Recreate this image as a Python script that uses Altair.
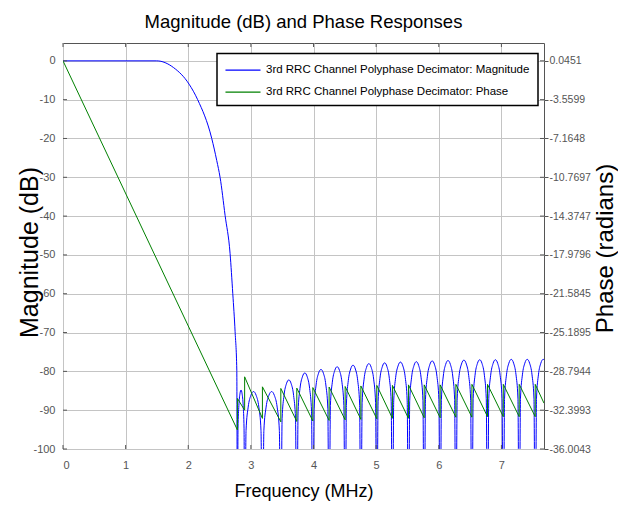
import altair as alt
import pandas as pd

FONT = "Liberation Sans, Arial, Helvetica, sans-serif"

title_text = "Magnitude (dB) and Phase Responses"
series_names = [
    "3rd RRC Channel Polyphase Decimator: Magnitude",
    "3rd RRC Channel Polyphase Decimator: Phase",
]
series_colors = ["#0000ff", "#008000"]

freq_ticks = [0, 1, 2, 3, 4, 5, 6, 7]
mag_ticks = [0, -10, -20, -30, -40, -50, -60, -70, -80, -90, -100]
phase_ticks = [0.0451, -3.5599, -7.1648, -10.7697, -14.3747, -17.9796,
               -21.5845, -25.1895, -28.7944, -32.3993, -36.0043]

freq_range = [0, 7.68]
mag_range = [-100, 4.6]
phase_range = [-36.0043, 1.7034]

# magnitude: passband and transition band (MHz, dB)
pass_freq = [0.0, 1.497, 1.762, 2.013, 2.15, 2.375, 2.455, 2.508, 2.588,
             2.668, 2.711, 2.748, 2.775]
pass_db = [0.0, 0.0, -1.7, -6.0, -10.0, -20.0, -25.7, -30.0, -39.8,
           -49.7, -60.0, -69.8, -79.7]

# magnitude: stopband nulls (MHz) and sidelobe peak levels (dB)
null_freq = [2.785, 2.90, 3.184, 3.478, 3.733, 3.989, 4.249, 4.505, 4.756,
             5.011, 5.260, 5.516, 5.767, 6.022, 6.273, 6.529, 6.778, 7.03,
             7.284, 7.540, 7.795]
lobe_peak_db = [-84.8, -85.2, -85.2, -82.2, -80.4, -79.5, -78.8, -78.4,
                -78.0, -77.8, -77.6, -77.5, -77.3, -77.2, -77.1, -77.0,
                -77.0, -76.9, -76.9, -76.9]
null_depth_db = -130.0
# sidelobe profile: position within lobe, dB below peak
lobe_shape_frac = [0.08, 0.2, 0.35, 0.5, 0.65, 0.8, 0.92]
lobe_shape_drop = [10.0, 4.0, 1.0, 0.0, 1.0, 4.0, 10.0]

# phase (radians)
phase_freq = [0.0, 2.785, 2.785, 2.90, 2.90, 3.184, 3.184, 3.478, 3.478,
              3.733, 3.733, 3.989, 3.989, 4.249, 4.249, 4.505, 4.505,
              4.756, 4.756, 5.011, 5.011, 5.260, 5.260, 5.516, 5.516,
              5.767, 5.767, 6.022, 6.022, 6.273, 6.273, 6.529, 6.529,
              6.778, 6.778, 7.03, 7.03, 7.284, 7.284, 7.540, 7.540, 7.68]
phase_rad = [0.0451, -34.24, -31.31, -32.40, -29.30, -33.16, -30.23, -33.48,
             -30.38, -33.45, -30.35, -33.40, -30.30, -33.35, -30.25, -33.30,
             -30.20, -33.25, -30.15, -33.20, -30.10, -33.15, -30.10, -33.15,
             -30.05, -33.10, -30.05, -33.10, -30.05, -33.05, -30.00, -33.05,
             -30.00, -33.00, -30.00, -33.00, -30.00, -33.00, -30.00, -33.00,
             -30.00, -31.75]

# ---- tables ----
mag_rows = list(zip(pass_freq, pass_db))
for i, peak in enumerate(lobe_peak_db):
    a, b = null_freq[i], null_freq[i + 1]
    mag_rows.append((a, null_depth_db))
    for fr, dr in zip(lobe_shape_frac, lobe_shape_drop):
        mag_rows.append((a + fr * (b - a), peak - dr))
mag_rows.append((null_freq[-1], null_depth_db))
mag_df = pd.DataFrame(mag_rows, columns=["freq", "db"])
mag_df["i"] = range(len(mag_df))
mag_df["series"] = series_names[0]

phase_df = pd.DataFrame({"freq": phase_freq, "phase": phase_rad})
phase_df["i"] = range(len(phase_df))
phase_df["series"] = series_names[1]

xtick_df = pd.DataFrame({"freq": freq_ticks})
ytick_df = pd.DataFrame({"db": mag_ticks})

W, H = 481, 406
TICK_LEN = 4
TICK_COLOR = "#555555"

# ---- scales / axes ----
x_scale = alt.Scale(domain=freq_range, nice=False, zero=False)
mag_scale = alt.Scale(domain=mag_range, nice=False, zero=False)

x_axis = alt.Axis(
    values=freq_ticks, title="Frequency (MHz)", grid=True, ticks=False,
    domain=False, labelExpr="'' + datum.value", labelFont=FONT,
    labelFontSize=11, labelColor="#555555", labelPadding=10,
    titleFont=FONT, titleFontSize=18, titleFontWeight="normal",
    titleColor="#000000", titlePadding=12,
)
x_enc = alt.X("freq:Q", scale=x_scale, axis=x_axis)

color_enc = alt.Color(
    "series:N",
    scale=alt.Scale(domain=series_names, range=series_colors),
    legend=alt.Legend(
        title=None, orient="none", legendX=154, legendY=10.6, direction="vertical",
        fillColor="#ffffff", strokeColor="#000000", padding=8, rowPadding=8,
        symbolType="M-1.07,0H3.6", symbolSize=225, symbolStrokeWidth=1.2,
        labelOffset=24, labelFont=FONT, labelFontSize=11.5, labelColor="#000000",
        labelLimit=400,
    ),
)

mag = alt.Chart(mag_df).mark_line(strokeWidth=1, interpolate="monotone", clip=True).encode(
    x=x_enc,
    y=alt.Y(
        "db:Q",
        scale=mag_scale,
        axis=alt.Axis(
            orient="left", values=mag_ticks, title="Magnitude (dB)", grid=True,
            ticks=False, domain=False, labelExpr="'' + datum.value",
            labelFont=FONT, labelFontSize=11, labelColor="#555555", labelPadding=8,
            titleFont=FONT, titleFontSize=25, titleFontWeight="normal",
            titleColor="#000000", titleAngle=270, titleX=-21, titleY=209,
            titleBaseline="bottom", titleAlign="center",
        ),
    ),
    color=color_enc,
    order=alt.Order("i:Q"),
)

phase = alt.Chart(phase_df).mark_line(strokeWidth=1, clip=True).encode(
    x=x_enc,
    y=alt.Y(
        "phase:Q",
        scale=alt.Scale(domain=phase_range, nice=False, zero=False),
        axis=alt.Axis(
            orient="right", values=phase_ticks, title="Phase (radians)", grid=False,
            ticks=True, tickSize=4, tickColor=TICK_COLOR, domain=False,
            labelExpr="'' + datum.value", labelFont=FONT, labelFontSize=10.5,
            labelColor="#555555", labelPadding=1,
            titleFont=FONT, titleFontSize=24, titleFontWeight="normal",
            titleColor="#000000", titleAngle=270, titleX=49, titleY=205,
            titleBaseline="top", titleAlign="center",
        ),
    ),
    color=color_enc,
    order=alt.Order("i:Q"),
)

# inward tick marks (MATLAB style) on all four sides of the box
yv = alt.Y("db:Q", scale=mag_scale, axis=None)
tick_top = alt.Chart(xtick_df).mark_rule(color=TICK_COLOR, strokeWidth=1).encode(
    x=x_enc, y=alt.value(0), y2=alt.value(TICK_LEN))
tick_bottom = alt.Chart(xtick_df).mark_rule(color=TICK_COLOR, strokeWidth=1).encode(
    x=x_enc, y=alt.value(H - TICK_LEN), y2=alt.value(H))
tick_left = alt.Chart(ytick_df).mark_rule(color=TICK_COLOR, strokeWidth=1).encode(
    y=yv, x=alt.value(0), x2=alt.value(TICK_LEN))
tick_right = alt.Chart(ytick_df).mark_rule(color=TICK_COLOR, strokeWidth=1).encode(
    y=yv, x=alt.value(W - TICK_LEN), x2=alt.value(W))

chart = (
    alt.layer(mag, phase, tick_top, tick_bottom, tick_left, tick_right)
    .resolve_scale(y="independent")
    .properties(
        width=W, height=H,
        title=alt.TitleParams(
            text=title_text, font=FONT, fontSize=18.5, fontWeight="normal",
            color="#000000", anchor="middle", offset=11,
        ),
        autosize=alt.AutoSizeParams(type="none"),
        padding={"left": 63, "top": 43, "right": 74, "bottom": 61},
        background="#ffffff",
    )
    .configure_view(stroke="#555555", strokeWidth=1, fill="#ffffff")
    .configure_axis(gridColor="#c4c4c4", gridWidth=1, gridOpacity=1)
    .configure_legend(strokeWidth=1.5)
)

chart.save("out.html", embed_options={"renderer": "svg", "actions": False})
